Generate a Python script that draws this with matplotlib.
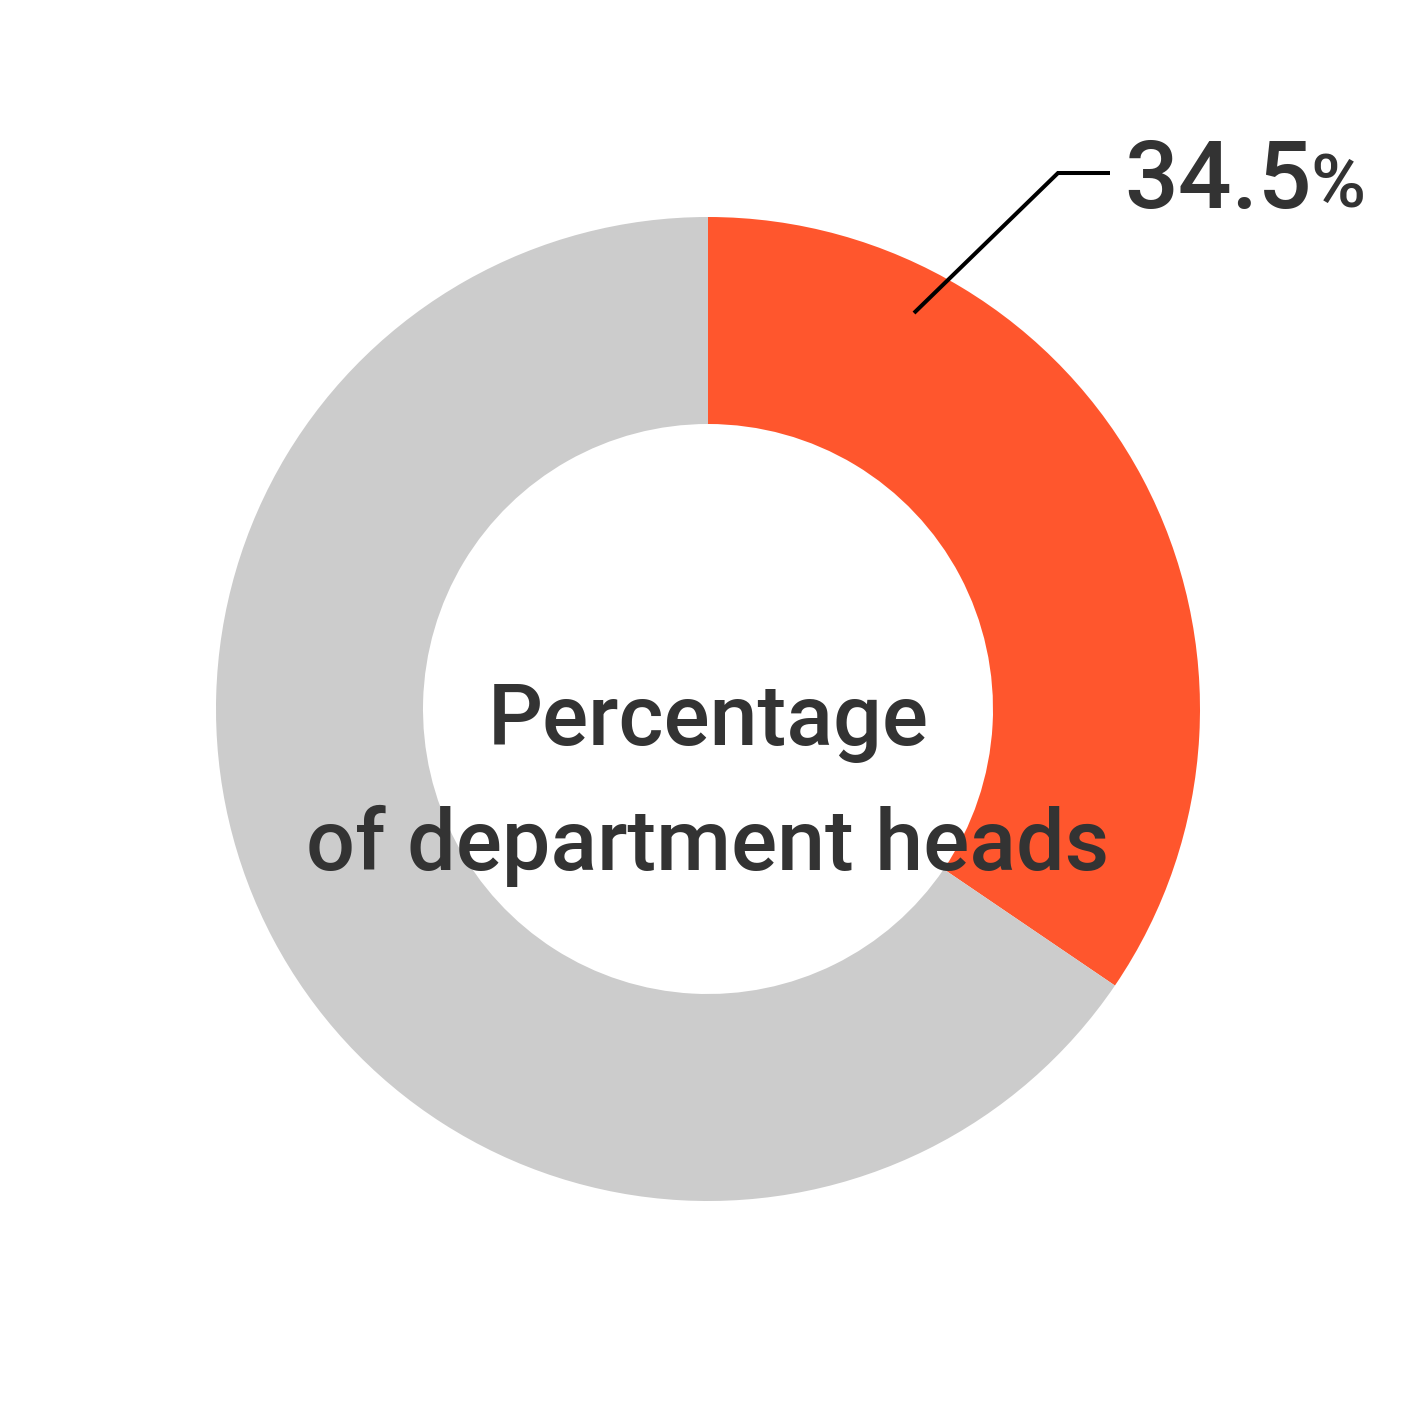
import matplotlib
matplotlib.use("Agg")
import matplotlib.pyplot as plt

# data
categories = ["Department heads", "Others"]
values = [34.5, 65.5]
label_value = "34.5"
label_unit = "%"
center_lines = ["Percentage", "of department heads"]

colors = ["#FF562D", "#CCCCCC"]
text_color = "#333333"
fonts = ["Roboto", "DejaVu Sans"]

W = H = 1417
fig = plt.figure(figsize=(W / 100, H / 100), dpi=100)
ax = fig.add_axes([0, 0, 1, 1])

cx, cy = 708, H - 709
R_out, R_in = 492, 285
ax.pie(values, colors=colors, startangle=90, counterclock=False,
       center=(cx, cy), radius=R_out,
       wedgeprops=dict(width=R_out - R_in, linewidth=0), frame=True)
ax.set_xlim(0, W)
ax.set_ylim(0, H)
ax.set_aspect("equal")
ax.axis("off")

# leader line
ax.plot([914, 1058, 1110], [H - 313, H - 173, H - 173], color="black",
        lw=2.9, solid_capstyle="butt", solid_joinstyle="miter")

ax.text(1124, H - 208, label_value, fontsize=68, color=text_color,
        family=fonts, weight="medium", ha="left", va="baseline")
ax.text(1310, H - 208, label_unit, fontsize=54, color=text_color,
        family=fonts, weight="medium", ha="left", va="baseline")

ax.text(cx, H - 745, center_lines[0], fontsize=62, color=text_color,
        family=fonts, weight="medium", ha="center", va="baseline")
ax.text(cx, H - 870, center_lines[1], fontsize=62, color=text_color,
        family=fonts, weight="medium", ha="center", va="baseline")

fig.savefig("out.png", dpi=100, facecolor="white")
